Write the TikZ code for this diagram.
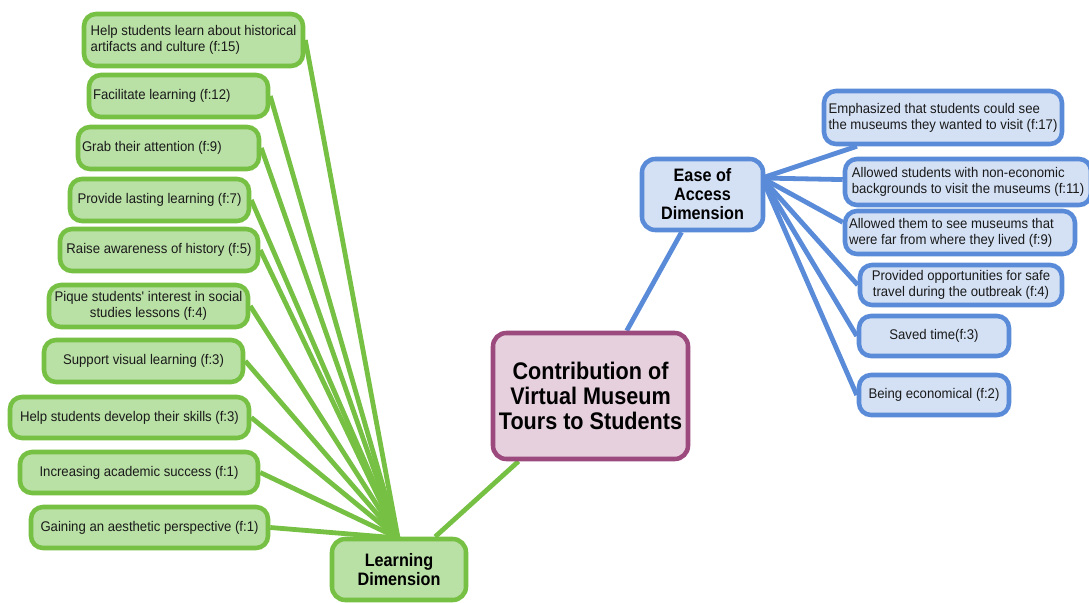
\documentclass[tikz,border=0pt]{standalone}
\usepackage{fontspec}
\setmainfont{Liberation Sans}[FakeStretch=0.94]
\newfontfamily\headfont{Liberation Sans}[FakeStretch=0.9]
\usetikzlibrary{backgrounds}

\definecolor{gfill}{HTML}{B9E0A5}
\definecolor{gline}{HTML}{76C044}
\definecolor{bfill}{HTML}{D4E1F5}
\definecolor{bline}{HTML}{5A8BD8}
\definecolor{pfill}{HTML}{E6D0DE}
\definecolor{pline}{HTML}{9C4A7E}
\definecolor{txt}{HTML}{1A1A1A}

\tikzset{
  wh/.code 2 args={%
    \pgfmathsetlengthmacro\bw{#1*0.75pt}%
    \pgfmathsetlengthmacro\bh{#2*0.75pt}%
    \edef\tmp{\noexpand\pgfkeysalso{minimum width=\bw,minimum height=\bh}}\tmp},
  box/.style={draw, rounded corners=9pt, line width=3.4pt, inner xsep=3pt,
    inner ysep=2pt, align=center, font=\fontsize{10.5}{12}\selectfont, text=txt},
  gbox/.style={box, draw=gline, fill=gfill},
  bbox/.style={box, draw=bline, fill=bfill},
  hbox/.style={draw, rounded corners=10pt, line width=3.4pt, align=center,
    font=\headfont\bfseries\fontsize{13.5}{14.25}\selectfont, text=black},
  glink/.style={draw=gline, line width=3.6pt},
  blink/.style={draw=bline, line width=3.6pt},
}

\begin{document}
\begin{tikzpicture}[x=0.75pt, y=-0.75pt]
\useasboundingbox (0,0) rectangle (1089,603);

% central topic
\node[hbox, draw=pline, fill=pfill, wh={195}{126},
      font=\headfont\bfseries\fontsize{18}{19}\selectfont] (main) at (590.5,396)
  {Contribution of\\Virtual Museum\\Tours to Students};

% dimensions
\node[hbox, draw=gline, fill=gfill, wh={134}{61}] (ld) at (399,569.5)
  {Learning\\Dimension};
\node[hbox, draw=bline, fill=bfill, wh={121}{71}] (ease) at (702.5,194.5)
  {Ease of\\Access\\Dimension};

% learning dimension items
\node[gbox, wh={219}{52}, align=flush left] (g1) at (193.5,40)
  {Help students learn about historical\\artifacts and culture (f:15)};
\node[gbox, wh={179}{42}, text width=128.25pt, align=flush left] (g2) at (178.5,96)
  {Facilitate learning (f:12)};
\node[gbox, wh={181}{42}, text width=129.75pt, align=flush left] (g3) at (168.5,148)
  {Grab their attention (f:9)};
\node[gbox, wh={179}{42}] (g4) at (159.5,200) {Provide lasting learning (f:7)};
\node[gbox, wh={198}{42}] (g5) at (159,250) {Raise awareness of history (f:5)};
\node[gbox, wh={199}{42}] (g6) at (148.5,306)
  {Pique students\textquotesingle{} interest in social\\studies lessons (f:4)};
\node[gbox, wh={199}{42}] (g7) at (143.5,361) {Support visual learning (f:3)};
\node[gbox, wh={239}{41}] (g8) at (129.5,417.5) {Help students develop their skills (f:3)};
\node[gbox, wh={238}{41}] (g9) at (139,472.5) {Increasing academic success (f:1)};
\node[gbox, wh={237}{41}] (g10) at (149.5,527.5) {Gaining an aesthetic perspective (f:1)};

% ease of access items
\node[bbox, wh={238}{53}, align=flush left] (r1) at (943,117.5)
  {Emphasized that students could see\\the museums they wanted to visit (f:17)};
\node[bbox, wh={246}{46}, align=flush left] (r2) at (968,182)
  {Allowed students with non-economic\\backgrounds to visit the museums (f:11)};
\node[bbox, wh={230}{43}, text width=166.5pt, align=flush left] (r3) at (960,232.5)
  {Allowed them to see museums that\\were far from where they lived (f:9)};
\node[bbox, wh={202}{40}] (r4) at (961,285)
  {Provided opportunities for safe\\travel during the outbreak (f:4)};
\node[bbox, wh={150}{40}] (r5) at (934,336) {Saved time(f:3)};
\node[bbox, wh={150}{40}] (r6) at (934,395) {Being economical (f:2)};

% junction points of the fans
\coordinate (hubL) at (398,538);
\coordinate (hubE) at (762,178);

% connectors
\begin{scope}[on background layer]
  \foreach \n in {g1,g2,g3,g4,g5,g6,g7,g8,g9,g10}
    \draw[glink] (\n.east) -- (hubL);
  \draw[glink] (ld) -- (main);
  \draw[blink] (ease) -- (main);
  \draw[blink] (hubE) -- (r1);
  \draw[blink] (hubE) -- (r2);
  \draw[blink] (hubE) -- (r3.175);
  \draw[blink] (hubE) -- (r4.west);
  \draw[blink] (hubE) -- (r5.west);
  \draw[blink] (hubE) -- (r6.west);
\end{scope}
\end{tikzpicture}
\end{document}
